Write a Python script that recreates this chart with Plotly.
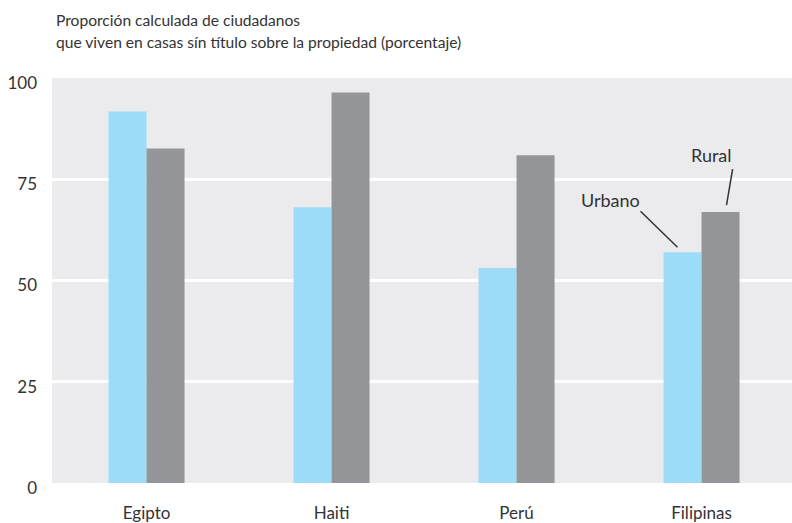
import plotly.graph_objects as go

# --- DADOS ---
paises = ["Egipto", "Haiti", "Perú", "Filipinas"]
urbano = [91.7, 68.1, 53.1, 57.0]
rural = [82.6, 96.4, 80.9, 66.9]
y_ticks = [0, 25, 50, 75, 100]

COR_URBANO = "#9DDCF8"
COR_RURAL = "#949598"
COR_TEXTO = "#333333"
FONTE = "Lato, 'Open Sans', sans-serif"

fig = go.Figure()
fig.add_trace(go.Bar(x=paises, y=urbano, name="Urbano", marker_color=COR_URBANO,
                     marker_line_width=0))
fig.add_trace(go.Bar(x=paises, y=rural, name="Rural", marker_color=COR_RURAL,
                     marker_line_width=0))

fig.update_layout(
    width=792, height=523,
    margin=dict(l=52, r=0, t=78, b=40, autoexpand=False),
    paper_bgcolor="white",
    plot_bgcolor="#EBEBEE",
    barmode="group", bargap=0.589, bargroupgap=0,
    showlegend=False,
    font=dict(family=FONTE, color=COR_TEXTO),
)

fig.update_xaxes(range=[-0.511, 3.489], showgrid=False, zeroline=False, showline=False,
                 tickfont=dict(size=17), ticks="", ticklabelstandoff=18)
fig.update_yaxes(range=[0, 100], tickvals=y_ticks, showgrid=True,
                 gridcolor="white", gridwidth=3, zeroline=False,
                 tickfont=dict(size=17), ticks="", ticklabelstandoff=14,
                 ticklabelshift=5)

# título (duas linhas)
fig.add_annotation(
    xref="paper", yref="paper", x=0.003, y=1.0, yshift=58,
    xanchor="left", yanchor="middle", showarrow=False,
    text="Proporción calculada de ciudadanos",
    font=dict(size=15.6, color=COR_TEXTO),
)
fig.add_annotation(
    xref="paper", yref="paper", x=0.003, y=1.0, yshift=36,
    xanchor="left", yanchor="middle", showarrow=False,
    text="que viven en casas sín título sobre la propiedad (porcentaje)",
    font=dict(size=15.6, color=COR_TEXTO),
)

# rótulos Urbano / Rural
fig.add_annotation(x=2.51, y=70.0, text="Urbano", showarrow=False,
                   font=dict(size=18, color=COR_TEXTO))
fig.add_annotation(x=3.054, y=80.9, text="Rural", showarrow=False,
                   font=dict(size=18, color=COR_TEXTO))
fig.add_shape(type="line", x0=2.67, y0=67.1, x1=2.87, y1=58.2,
              line=dict(color=COR_TEXTO, width=1.5))
fig.add_shape(type="line", x0=3.168, y0=77.5, x1=3.135, y1=68.6,
              line=dict(color=COR_TEXTO, width=1.5))

fig.write_html("out.html", config={"displayModeBar": False},
               post_script="document.body.style.margin='0';document.body.style.overflow='hidden';")
